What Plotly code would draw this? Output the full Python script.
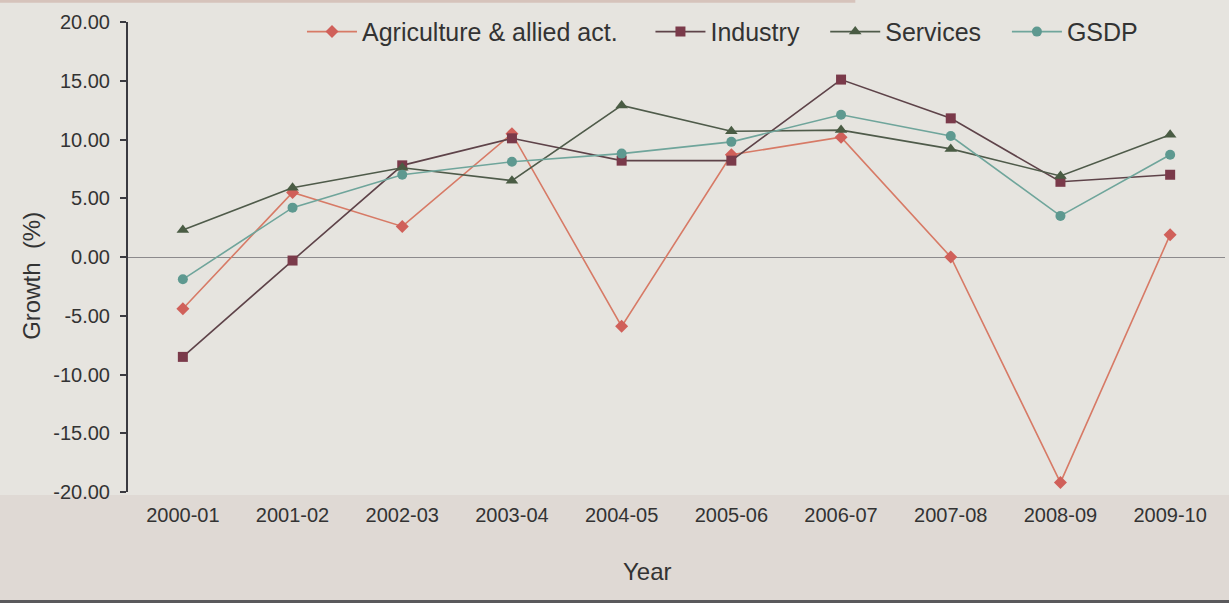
import plotly.graph_objects as go

# Year-on-year growth (%) by sector
years = ["2000-01", "2001-02", "2002-03", "2003-04", "2004-05",
         "2005-06", "2006-07", "2007-08", "2008-09", "2009-10"]
agriculture = [-4.4, 5.5, 2.6, 10.5, -5.9, 8.7, 10.2, 0.0, -19.2, 1.9]
industry = [-8.5, -0.3, 7.8, 10.1, 8.2, 8.2, 15.1, 11.8, 6.4, 7.0]
services = [2.3, 5.9, 7.6, 6.5, 12.9, 10.7, 10.8, 9.2, 6.9, 10.4]
gsdp = [-1.9, 4.2, 7.0, 8.1, 8.8, 9.8, 12.1, 10.3, 3.5, 8.7]

# y-axis ticks, printed with a plain hyphen for negatives
y_ticks = [20, 15, 10, 5, 0, -5, -10, -15, -20]
y_tick_labels = ["20.00", "15.00", "10.00", "5.00", "0.00",
                 "-5.00", "-10.00", "-15.00", "-20.00"]

FONT = "Liberation Sans, Arial, sans-serif"
TEXT = "#333333"
BG = "#e6e4df"
NB = "\u00a0"

# legend names carry trailing non-breaking spaces to widen the gaps between entries
series = [
    ("Agriculture & allied act." + NB * 4, agriculture, "#d77a66", "#d0605a", "diamond", 10),
    ("Industry" + NB * 3, industry, "#5e4349", "#7a3a4a", "square", 10),
    ("Services" + NB * 3, services, "#4f5b4a", "#4a5c44", "triangle-up", 11),
    ("GSDP", gsdp, "#6fa59b", "#5e9990", "circle", 10),
]

fig = go.Figure()
for name, vals, lc, mc, sym, size in series:
    fig.add_trace(go.Scatter(
        x=years, y=vals, name=name, mode="lines+markers",
        line=dict(color=lc, width=1.6),
        marker=dict(symbol=sym, size=size, color=mc, line=dict(width=0)),
    ))

fig.update_layout(
    width=1229, height=603,
    margin=dict(l=128, r=4, t=22, b=111),
    paper_bgcolor=BG, plot_bgcolor=BG,
    font=dict(family=FONT, color=TEXT),
    showlegend=True,
    legend=dict(
        orientation="h", x=0.1586, xanchor="left", y=0.979, yanchor="middle",
        font=dict(size=25, family=FONT, color=TEXT),
        bgcolor="rgba(0,0,0,0)", itemwidth=50, tracegroupgap=0,
    ),
    xaxis=dict(
        type="category", range=[-0.5, 9.5], showgrid=False, showline=False,
        ticks="", zeroline=False, tickfont=dict(size=20, color=TEXT),
        ticklabelstandoff=9,
    ),
    yaxis=dict(
        range=[-20, 20], tickvals=y_ticks, ticktext=y_tick_labels,
        showgrid=False, showline=True, linecolor="#3a3a40", linewidth=2,
        ticks="outside", ticklen=6, tickcolor="#3a3a40", tickwidth=1.5,
        zeroline=True, zerolinecolor="#8c8a8c", zerolinewidth=1,
        tickfont=dict(size=20, color=TEXT), ticklabelstandoff=6,
    ),
    annotations=[
        dict(text="Growth  (%)", textangle=-90, xref="paper", yref="paper",
             x=-0.0875, y=0.46, xanchor="center", yanchor="middle",
             showarrow=False, font=dict(size=24, family=FONT, color=TEXT)),
        dict(text="Year", xref="paper", yref="paper", x=0.474, y=-0.170,
             xanchor="center", yanchor="middle",
             showarrow=False, font=dict(size=24, family=FONT, color=TEXT)),
    ],
    shapes=[
        # slightly darker band beneath the plot area
        dict(type="rect", xref="paper", yref="paper", x0=-0.12, x1=1.01,
             y0=-0.0064, y1=-0.236, fillcolor="#dfd9d4", line=dict(width=0),
             layer="below"),
        # thin dark rule along the bottom edge
        dict(type="rect", xref="paper", yref="paper", x0=-0.12, x1=1.01,
             y0=-0.2298, y1=-0.236, fillcolor="#5a595c", line=dict(width=0),
             layer="below"),
        # faint tinted strip along the top-left edge
        dict(type="rect", xref="paper", yref="paper", x0=-0.12, x1=0.663,
             y0=1.0468, y1=1.041, fillcolor="#d6c3bb", line=dict(width=0),
             layer="below"),
    ],
)

fig.write_html("out.html")
